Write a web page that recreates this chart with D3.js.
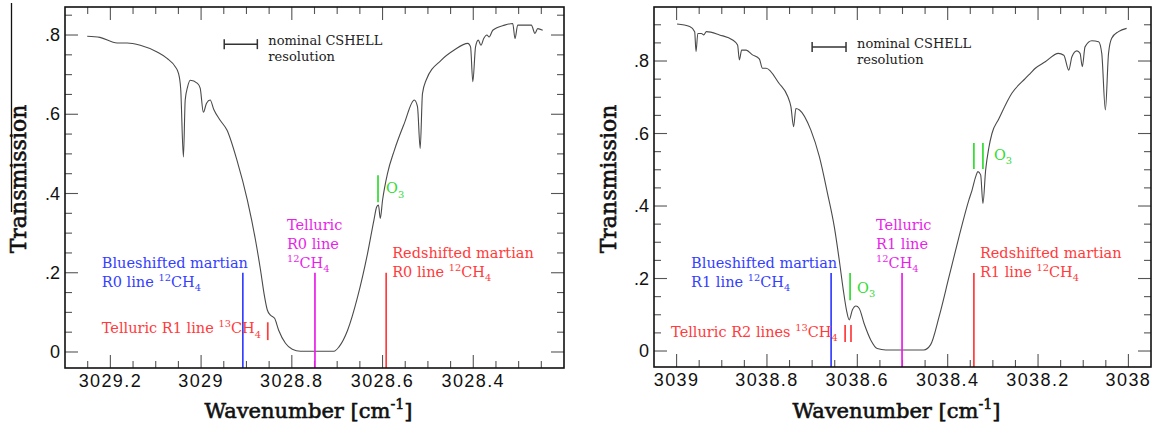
<!DOCTYPE html>
<html>
<head>
<meta charset="utf-8">
<script src="https://cdn.jsdelivr.net/npm/d3@7"></script>
<style>
  body { margin: 0; background: #fff; }
  svg { display: block; }
</style>
</head>
<body>
<svg id="chart" width="1158" height="428"></svg>
<script>
// ---- Spectrum near the R0 line of 12CH4 (transmission vs wavenumber) ----
const leftWavenumber = [3029.251, 3029.223, 3029.185, 3029.163, 3029.134, 3029.097, 3029.075, 3029.057, 3029.050, 3029.045,
  3029.039, 3029.035, 3029.030, 3029.024, 3029.008, 3029.002, 3028.995, 3028.988, 3028.980, 3028.972,
  3028.958, 3028.943, 3028.921, 3028.898, 3028.880, 3028.869, 3028.860, 3028.854, 3028.847, 3028.838,
  3028.829, 3028.814, 3028.799, 3028.781, 3028.740, 3028.707, 3028.696, 3028.677, 3028.655, 3028.633,
  3028.619, 3028.613, 3028.609, 3028.605, 3028.600, 3028.589, 3028.574, 3028.552, 3028.530, 3028.523,
  3028.517, 3028.512, 3028.504, 3028.471, 3028.442, 3028.412, 3028.406, 3028.401, 3028.395, 3028.389,
  3028.383, 3028.377, 3028.370, 3028.365, 3028.357, 3028.331, 3028.313, 3028.308, 3028.302, 3028.272,
  3028.264, 3028.258, 3028.247];
const leftTransmission = [0.797, 0.794, 0.780, 0.780, 0.774, 0.757, 0.741, 0.720, 0.704, 0.665,
  0.492, 0.636, 0.668, 0.686, 0.678, 0.666, 0.605, 0.628, 0.636, 0.612,
  0.585, 0.560, 0.484, 0.383, 0.282, 0.207, 0.139, 0.106, 0.093, 0.085,
  0.055, 0.022, 0.007, 0.002, 0.002, 0.002, 0.013, 0.055, 0.139, 0.249,
  0.333, 0.366, 0.371, 0.337, 0.383, 0.451, 0.509, 0.577, 0.636, 0.619,
  0.514, 0.652, 0.686, 0.736, 0.762, 0.779, 0.770, 0.682, 0.770, 0.787,
  0.774, 0.791, 0.800, 0.795, 0.812, 0.825, 0.829, 0.791, 0.825, 0.825,
  0.804, 0.816, 0.812];

// ---- Spectrum near the R1 line of 12CH4 ----
const rightWavenumber = [3038.999, 3038.971, 3038.960, 3038.957, 3038.953, 3038.945, 3038.940, 3038.934, 3038.905, 3038.876,
  3038.865, 3038.861, 3038.856, 3038.846, 3038.832, 3038.817, 3038.810, 3038.802, 3038.773, 3038.754,
  3038.747, 3038.741, 3038.736, 3038.728, 3038.703, 3038.684, 3038.666, 3038.651, 3038.640, 3038.631,
  3038.624, 3038.618, 3038.611, 3038.603, 3038.596, 3038.585, 3038.570, 3038.556, 3038.537, 3038.453,
  3038.438, 3038.419, 3038.397, 3038.375, 3038.353, 3038.346, 3038.338, 3038.333, 3038.327, 3038.322,
  3038.316, 3038.309, 3038.302, 3038.287, 3038.258, 3038.228, 3038.217, 3038.206, 3038.184, 3038.155,
  3038.143, 3038.132, 3038.125, 3038.114, 3038.107, 3038.102, 3038.096, 3038.081, 3038.066, 3038.059,
  3038.051, 3038.044, 3038.037, 3038.022, 3038.004];
const rightTransmission = [0.902, 0.895, 0.881, 0.826, 0.876, 0.876, 0.872, 0.881, 0.872, 0.858,
  0.844, 0.803, 0.830, 0.830, 0.817, 0.806, 0.780, 0.780, 0.738, 0.702,
  0.674, 0.619, 0.669, 0.665, 0.610, 0.536, 0.435, 0.343, 0.251, 0.168,
  0.113, 0.086, 0.113, 0.124, 0.118, 0.076, 0.030, 0.007, 0.003, 0.003,
  0.017, 0.095, 0.205, 0.315, 0.417, 0.444, 0.481, 0.495, 0.486, 0.407,
  0.499, 0.560, 0.600, 0.640, 0.711, 0.752, 0.766, 0.780, 0.798, 0.821,
  0.816, 0.775, 0.812, 0.828, 0.821, 0.784, 0.839, 0.856, 0.853, 0.821,
  0.665, 0.821, 0.863, 0.881, 0.890];

// Marked line positions: wavenumber, vertical extent (transmission), colour, label.
// "^n" is a superscript, "_n" a subscript.
const leftMarkers = [
  { wn: [3028.908], from: "bottom", to: 0.200, color: "#3340ff",
    label: ["Blueshifted martian", "R0 line ^12CH_4"], dx: -141, dy: -5 },
  { wn: [3028.853], from: 0.030, to: 0.075, color: "#ff3b3b",
    label: ["Telluric R1 line ^13CH_4"], dx: -166, dy: 11 },
  { wn: [3028.749], from: "bottom", to: 0.200, color: "#e81fe8",
    label: ["Telluric", "R0 line", "^12CH_4"], dx: -28, dy: -43 },
  { wn: [3028.592], from: "bottom", to: 0.200, color: "#ff3b3b",
    label: ["Redshifted martian", "R0 line ^12CH_4"], dx: 6, dy: -15 },
  { wn: [3028.610], from: 0.378, to: 0.446, color: "#2fdc2f",
    label: ["O_3"], dx: 8, dy: 18 }
];
const rightMarkers = [
  { wn: [3038.658], from: "bottom", to: 0.215, color: "#3340ff",
    label: ["Blueshifted martian", "R1 line ^12CH_4"], dx: -140, dy: -5 },
  { wn: [3038.627, 3038.614], from: 0.025, to: 0.072, color: "#ff3b3b",
    label: ["Telluric R2 lines ^13CH_4"], dx: -174, dy: 12 },
  { wn: [3038.616], from: 0.140, to: 0.215, color: "#2fdc2f",
    label: ["O_3"], dx: 7, dy: 20 },
  { wn: [3038.501], from: "bottom", to: 0.215, color: "#e81fe8",
    label: ["Telluric", "R1 line", "^12CH_4"], dx: -26, dy: -43 },
  { wn: [3038.342], from: "bottom", to: 0.215, color: "#ff3b3b",
    label: ["Redshifted martian", "R1 line ^12CH_4"], dx: 6, dy: -15 },
  { wn: [3038.342, 3038.322], from: 0.502, to: 0.574, color: "#2fdc2f",
    label: ["O_3"], dx: 20, dy: 17 }
];

// Nominal spectrometer resolution bar: [start, end] wavenumber and height.
const leftResolution = { wn: [3028.949, 3028.876], tr: 0.777 };
const rightResolution = { wn: [3038.700, 3038.625], tr: 0.839 };
const resolutionText = ["nominal CSHELL", "resolution"];

const xTitle = "Wavenumber [cm^-1]";
const yTitle = "Transmission";

const panels = [
  { wn: leftWavenumber, tr: leftTransmission, markers: leftMarkers, resolution: leftResolution,
    xDomain: [3029.3, 3028.2], yDomain: [-0.0404, 0.8707],
    box: { left: 65, right: 564, top: 7, bottom: 368 }, yTitleX: 18 },
  { wn: rightWavenumber, tr: rightTransmission, markers: rightMarkers, resolution: rightResolution,
    xDomain: [3039.05, 3037.95], yDomain: [-0.0441, 0.949],
    box: { left: 654, right: 1151, top: 7, bottom: 367 }, yTitleX: 608 }
];

const svg = d3.select("#chart");
svg.append("rect").attr("width", 1158).attr("height", 428).attr("fill", "#fff");

const SERIF = "'DejaVu Serif', 'Liberation Serif', serif";
const SANS = "'Liberation Sans', Arial, sans-serif";

// Write text with ^sup and _sub markup into a <text> element.
function richText(sel, str, size) {
  const parts = str.match(/\^-?\d+|_\d+|[^\^_]+/g) || [];
  let shift = 0;
  parts.forEach(p => {
    const t = sel.append("tspan");
    if (p[0] === "^") {
      t.attr("font-size", size * 0.68).attr("dy", -0.42 * size - shift).text(p.slice(1));
      shift = -0.42 * size;
    } else if (p[0] === "_") {
      t.attr("font-size", size * 0.68).attr("dy", 0.3 * size - shift).text(p.slice(1));
      shift = 0.3 * size;
    } else {
      t.attr("dy", -shift).text(p);
      shift = 0;
    }
  });
}

function fmtWn(v) {
  const s = v.toFixed(1);
  return s.endsWith(".0") ? s.slice(0, -2) : s;
}
function fmtTr(v) {
  if (Math.abs(v) < 1e-9) return "0";
  return v.toFixed(1).replace(/^0/, "");
}

panels.forEach(p => {
  const b = p.box;
  const x = d3.scaleLinear().domain(p.xDomain).range([b.left, b.right]);
  const y = d3.scaleLinear().domain(p.yDomain).range([b.bottom, b.top]);
  const g = svg.append("g");

  // Ticks every 0.05, major every 0.2, drawn inward on all four sides (frame edges excluded)
  const xLo = Math.min(...p.xDomain), xHi = Math.max(...p.xDomain);
  const xTicks = d3.range(Math.floor(xLo / 0.05 + 1e-6) + 1, Math.ceil(xHi / 0.05 - 1e-6))
    .map(i => ({ v: i * 0.05, major: i % 4 === 0 }));
  const yTicks = d3.range(Math.ceil(p.yDomain[0] / 0.05 - 1e-6), Math.floor(p.yDomain[1] / 0.05 + 1e-6) + 1)
    .map(i => ({ v: i * 0.05, major: i % 4 === 0 }));
  const MAJ = 13, MIN = 7;
  const tickG = g.append("g").attr("stroke", "#555").attr("stroke-width", 1.1);
  xTicks.forEach(t => {
    const px = x(t.v), len = t.major ? MAJ : MIN;
    tickG.append("line").attr("x1", px).attr("x2", px).attr("y1", b.bottom).attr("y2", b.bottom - len);
    tickG.append("line").attr("x1", px).attr("x2", px).attr("y1", b.top).attr("y2", b.top + len);
  });
  yTicks.forEach(t => {
    const py = y(t.v), len = t.major ? MAJ : MIN;
    tickG.append("line").attr("y1", py).attr("y2", py).attr("x1", b.left).attr("x2", b.left + len);
    tickG.append("line").attr("y1", py).attr("y2", py).attr("x1", b.right).attr("x2", b.right - len);
  });

  // Tick labels
  g.append("g").selectAll("text").data(xTicks.filter(t => t.major)).join("text")
    .attr("x", d => x(d.v)).attr("y", b.bottom + 19)
    .attr("text-anchor", "middle").attr("font-family", SANS).attr("font-size", 18)
    .attr("letter-spacing", 1.4).attr("fill", "#111")
    .text(d => fmtWn(d.v));
  g.append("g").selectAll("text").data(yTicks.filter(t => t.major)).join("text")
    .attr("x", b.left - 5).attr("y", d => y(d.v) + 6)
    .attr("text-anchor", "end").attr("font-family", SANS).attr("font-size", 18)
    .attr("fill", "#111")
    .text(d => fmtTr(d.v));

  // Spectrum
  const pts = p.wn.map((w, i) => [w, p.tr[i]]);
  g.append("path").datum(pts)
    .attr("fill", "none").attr("stroke", "#4a4a4a").attr("stroke-width", 1.1)
    .attr("d", d3.line().x(d => x(d[0])).y(d => y(d[1])).curve(d3.curveMonotoneX));

  // Marked lines and labels
  p.markers.forEach(m => {
    const yFrom = m.from === "bottom" ? b.bottom : y(m.from);
    const yTo = y(m.to);
    m.wn.forEach(w => {
      g.append("line").attr("x1", x(w)).attr("x2", x(w)).attr("y1", yFrom).attr("y2", yTo)
        .attr("stroke", m.color).attr("stroke-width", 1.7);
    });
    const tx = x(m.wn[0]) + m.dx;
    m.label.forEach((ln, i) => {
      const t = g.append("text").attr("x", tx).attr("y", yTo + m.dy + i * 19)
        .attr("font-family", SERIF).attr("font-size", 14.5).attr("fill", m.color);
      richText(t, ln, 14.5);
    });
  });

  // Resolution bar
  const r = p.resolution;
  const rx0 = x(r.wn[0]), rx1 = x(r.wn[1]), ry = y(r.tr);
  const rg = g.append("g").attr("stroke", "#333").attr("stroke-width", 1.5);
  rg.append("line").attr("x1", rx0).attr("x2", rx1).attr("y1", ry).attr("y2", ry);
  rg.append("line").attr("x1", rx0).attr("x2", rx0).attr("y1", ry - 5).attr("y2", ry + 5);
  rg.append("line").attr("x1", rx1).attr("x2", rx1).attr("y1", ry - 5).attr("y2", ry + 5);
  resolutionText.forEach((s, i) => {
    g.append("text").attr("x", rx1 + 11).attr("y", ry + 1 + i * 16)
      .attr("font-family", SERIF).attr("font-size", 13).attr("fill", "#222").text(s);
  });

  // Frame
  g.append("rect").attr("x", b.left).attr("y", b.top)
    .attr("width", b.right - b.left).attr("height", b.bottom - b.top)
    .attr("fill", "none").attr("stroke", "#111").attr("stroke-width", 1.6);

  // Axis titles (regular face, lightly stroked for a medium weight)
  const xt = g.append("text").attr("x", (b.left + b.right) / 2 - 6).attr("y", 418)
    .attr("text-anchor", "middle").attr("font-family", SERIF).attr("font-size", 21)
    .attr("fill", "#111").attr("stroke", "#111").attr("stroke-width", 0.6);
  richText(xt, xTitle, 21);
  g.append("text")
    .attr("transform", `translate(${p.yTitleX + 8},179) rotate(-90)`)
    .attr("text-anchor", "middle").attr("font-family", SERIF).attr("font-size", 22)
    .attr("fill", "#111").attr("stroke", "#111").attr("stroke-width", 0.6).text(yTitle);
});

// Thin rule along the left edge beside the first title
svg.append("line").attr("x1", 11.5).attr("x2", 11.5).attr("y1", 3).attr("y2", 212)
  .attr("stroke", "#111").attr("stroke-width", 1.3);
</script>
</body>
</html>
